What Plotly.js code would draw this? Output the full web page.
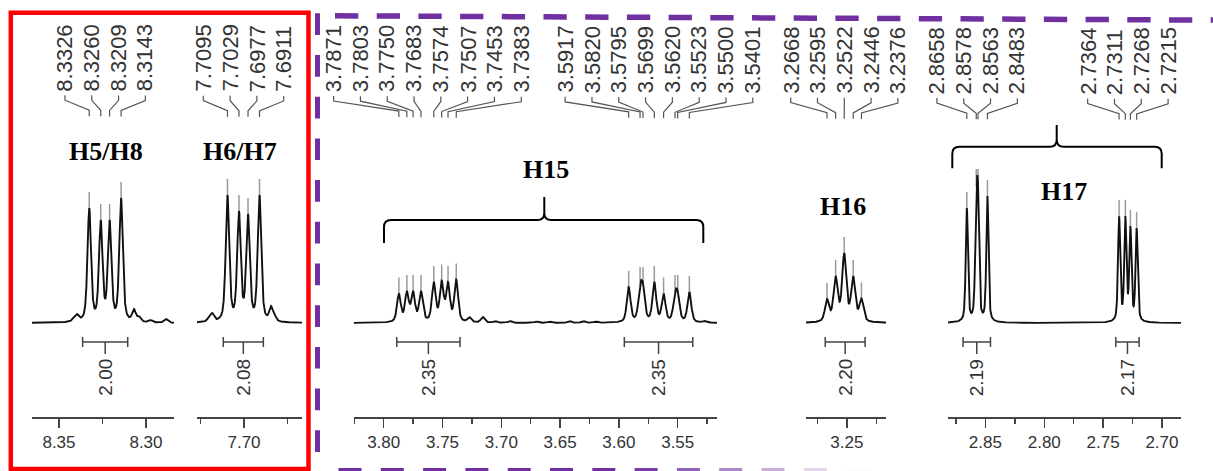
<!DOCTYPE html>
<html><head><meta charset="utf-8">
<script src="https://cdn.plot.ly/plotly-3.0.1.min.js"></script>
<style>html,body{margin:0;padding:0;background:#fff}#chart{width:1213px;height:471px}</style>
</head><body><div id="chart"></div>
<script>
const W = 1213, H = 471;

// ---------- data ----------
// picked peaks (ppm) and peak heights (arbitrary intensity units)
const shiftsH58 = [8.3326, 8.3260, 8.3209, 8.3143];
const heightsH58 = [115, 103, 103, 125];
const minorShiftsH58 = [8.3414, 8.3395, 8.3069, 8.3040, 8.2975, 8.2885];
const minorHeightsH58 = [6, 9, 14, 7, 3, 4];

const shiftsH67 = [7.7095, 7.7029, 7.6977, 7.6911];
const heightsH67 = [128, 112, 109, 128];
const minorShiftsH67 = [7.7205, 7.7183, 7.6845, 7.6825];
const minorHeightsH67 = [5, 10, 17, 9];

const shiftsH15a = [3.7871, 3.7803, 3.7750, 3.7683, 3.7574, 3.7507, 3.7453, 3.7383];
const heightsH15a = [29.5, 32, 32, 32, 41, 42.5, 41, 43.5];
const shiftsH15b = [3.5917, 3.5820, 3.5795, 3.5699, 3.5620, 3.5523, 3.5500, 3.5401];
const heightsH15b = [36, 40, 40, 41, 29.5, 32, 32, 31];
const minorShiftsH15 = [3.7272, 3.7158, 3.7054, 3.6929, 3.6699, 3.6586, 3.6422, 3.6303, 3.6197, 3.5270];
const minorHeightsH15 = [6, 6, 2, 2, 1.5, 1.5, 2, 2, 1.5, 2];

const shiftsH16 = [3.2668, 3.2595, 3.2522, 3.2446, 3.2376];
const heightsH16 = [24, 47, 70, 47, 24.5];

const shiftsH17a = [2.8658, 2.8578, 2.8563, 2.8483];
const heightsH17a = [115, 138, 138, 127];
const shiftsH17b = [2.7364, 2.7311, 2.7268, 2.7215];
const heightsH17b = [107, 107, 97, 95];

// integration regions (ppm) and integral values
const integralFrom = [8.3364, 7.7119, 3.7889, 3.5954, 3.2683, 2.8690, 2.7392];
const integralTo   = [8.3105, 7.6889, 3.7351, 3.5372, 3.2345, 2.8457, 2.7194];
const integralValues = ['2.00', '2.08', '2.35', '2.35', '2.20', '2.19', '2.17'];
const integralPanel = [0, 1, 2, 2, 3, 4, 4];

const assignmentLabels = ['H5/H8', 'H6/H7', 'H15', 'H16', 'H17'];

// ---------- layout of the panels ----------
const panels = [
  {px: [32, 174],    range: [8.3655, 8.2839], hw: 0.0012, eta: 0.5,
   sets: [[shiftsH58, heightsH58], [minorShiftsH58, minorHeightsH58]], groups: [shiftsH58], lab: [105.5, 152]},
  {px: [197, 302],   range: [7.7270, 7.6667], hw: 0.0012, eta: 0.5,
   sets: [[shiftsH67, heightsH67], [minorShiftsH67, minorHeightsH67]], groups: [shiftsH67], lab: [239.7, 152]},
  {px: [353.7, 717], range: [3.8255, 3.5166], hw: 0.0019, eta: 0.5,
   sets: [[shiftsH15a, heightsH15a], [shiftsH15b, heightsH15b], [minorShiftsH15, minorHeightsH15]], groups: [shiftsH15a, shiftsH15b], lab: [546.3, 170]},
  {px: [806, 886],   range: [3.2846, 3.2168], hw: 0.0021, eta: 0.5,
   sets: [[shiftsH16, heightsH16]], groups: [shiftsH16], lab: [842.7, 206]},
  {px: [948, 1181],  range: [2.8818, 2.6838], hw: 0.0011, eta: 0.5,
   sets: [[shiftsH17a, heightsH17a], [shiftsH17b, heightsH17b]], groups: [shiftsH17a, shiftsH17b], lab: [1063.7, 191]}
];
const AXIS_Y = 417;        // pixel row of the ppm axes
const BASE_Y = 323;        // pixel row of the spectrum baseline

const px2x = v => v / W, px2y = v => 1 - v / H;
function pxOf(i, ppm) {
  const p = panels[i];
  return p.px[0] + (p.range[0] - ppm) / (p.range[0] - p.range[1]) * (p.px[1] - p.px[0]);
}
function lineShape(d, w, eta) { const r = (d / w) * (d / w); return eta / (1 + r) + (1 - eta) * Math.exp(-Math.LN2 * r); }

// amplitudes so that the summed line shape reaches the read heights at the picked shifts
panels.forEach(p => {
  const pos = [], tgt = [];
  p.sets.forEach(([s, h]) => s.forEach((v, k) => { pos.push(v); tgt.push(h[k]); }));
  const amp = tgt.slice();
  for (let it = 0; it < 300; it++) {
    for (let a = 0; a < pos.length; a++) {
      let other = 0;
      for (let b = 0; b < pos.length; b++) if (b !== a) other += amp[b] * lineShape(pos[a] - pos[b], p.hw, p.eta);
      amp[a] = Math.max(0, tgt[a] - other);
    }
  }
  p.pos = pos; p.amp = amp;
});
function specAt(p, x) { let s = 0; for (let k = 0; k < p.pos.length; k++) s += p.amp[k] * lineShape(x - p.pos[k], p.hw, p.eta); return s; }

const traces = [], shapes = [], annotations = [];
const layout = {
  width: W, height: H, margin: {l: 0, r: 0, t: 0, b: 0}, showlegend: false,
  paper_bgcolor: '#fff', plot_bgcolor: 'rgba(0,0,0,0)',
  yaxis: {domain: [0, 1], range: [BASE_Y - H, BASE_Y], visible: false, fixedrange: true}
};

panels.forEach((p, i) => {
  const xa = 'x' + (i ? i + 1 : ''), key = 'xaxis' + (i ? i + 1 : '');
  layout[key] = {
    domain: [p.px[0] / W, p.px[1] / W], range: p.range, anchor: 'free', position: (H - AXIS_Y) / H,
    showgrid: false, zeroline: false, showline: true, linecolor: '#444', linewidth: 1.5,
    ticks: 'outside', ticklen: 9, tickwidth: 1.5, tickcolor: '#444', dtick: 0.05, tick0: 0, tickformat: '.2f',
    minor: {dtick: 0.025, tick0: 0, ticks: 'outside', ticklen: 5, tickwidth: 1.5, tickcolor: '#444', showgrid: false},
    tickfont: {family: 'Liberation Sans, Arial, sans-serif', size: 17, color: '#333'}, fixedrange: true
  };
  const N = 1500, xs = [], ys = [];
  for (let k = 0; k <= N; k++) { const x = p.range[0] + (p.range[1] - p.range[0]) * k / N; xs.push(x); ys.push(specAt(p, x)); }
  // peak-pick markers
  const mx = [], my = [];
  p.groups.forEach(g => g.forEach(v => { mx.push(v); my.push(specAt(p, v) + 7); }));
  traces.push({x: mx, y: my, xaxis: xa, yaxis: 'y', mode: 'markers', hoverinfo: 'skip',
    marker: {symbol: 'line-ns-open', size: 13, color: '#9a9a9a', line: {width: 1.5, color: '#9a9a9a'}}});
  traces.push({x: xs, y: ys, xaxis: xa, yaxis: 'y', mode: 'lines', hoverinfo: 'skip', line: {color: '#111', width: 1.9}});

  // peak labels with connectors
  p.groups.forEach(g => {
    const pk = g.map(v => pxOf(i, v));
    const mean = pk.reduce((a, b) => a + b, 0) / pk.length;
    g.forEach((v, k) => {
      const lx = mean + (k - (g.length - 1) / 2) * 26.8;
      const lb = 92 + 4 * (lx / W);
      annotations.push({x: px2x(lx), y: px2y(lb), xref: 'paper', yref: 'paper', text: v.toFixed(4), textangle: -90,
        xanchor: 'center', yanchor: 'bottom', showarrow: false, borderpad: 0,
        font: {family: 'Liberation Sans, Arial, sans-serif', size: 22, color: '#333'}});
      const yA = lb + 3, yB = yA + 5, yC = yB + 10, yD = yC + 6;
      shapes.push({type: 'path', xref: 'paper', yref: 'paper', line: {color: '#555', width: 1.2},
        path: `M ${px2x(lx)} ${px2y(yA)} L ${px2x(lx)} ${px2y(yB)} L ${px2x(pk[k])} ${px2y(yC)} L ${px2x(pk[k])} ${px2y(yD)}`});
    });
  });
  annotations.push({x: px2x(p.lab[0]), y: px2y(p.lab[1]), xref: 'paper', yref: 'paper', text: '<b>' + assignmentLabels[i] + '</b>',
    showarrow: false, xanchor: 'center', yanchor: 'middle', font: {family: 'Liberation Serif, Times New Roman, serif', size: 26, color: '#000'}});
});

// integrals
integralValues.forEach((val, j) => {
  const i = integralPanel[j];
  const x0 = pxOf(i, integralFrom[j]), x1 = pxOf(i, integralTo[j]), xc = (x0 + x1) / 2;
  const ln = {color: '#444', width: 1.5};
  shapes.push({type: 'path', xref: 'paper', yref: 'paper', line: ln,
    path: `M ${px2x(x0)} ${px2y(337)} L ${px2x(x0)} ${px2y(347)} M ${px2x(x0)} ${px2y(342)} L ${px2x(x1)} ${px2y(342)} M ${px2x(x1)} ${px2y(337)} L ${px2x(x1)} ${px2y(347)} M ${px2x(xc)} ${px2y(342)} L ${px2x(xc)} ${px2y(354)}`});
  annotations.push({x: px2x(xc), y: px2y(377.5), xref: 'paper', yref: 'paper', text: val, textangle: -90, showarrow: false,
    xanchor: 'center', yanchor: 'middle', font: {family: 'Liberation Sans, Arial, sans-serif', size: 19, color: '#333'}});
});

// curly braces over H15 and H17
function brace(xl, xr, xm, yEnd, yBar, yTip) {
  const r = 7, P = (x, y) => `${px2x(x)} ${px2y(y)}`;
  return `M ${P(xl, yEnd)} L ${P(xl, yBar + r)} Q ${P(xl, yBar)} ${P(xl + r, yBar)} L ${P(xm - r, yBar)} Q ${P(xm, yBar)} ${P(xm, yBar - r)} L ${P(xm, yTip)}` +
         ` M ${P(xm, yBar - r)} Q ${P(xm, yBar)} ${P(xm + r, yBar)} L ${P(xr - r, yBar)} Q ${P(xr, yBar)} ${P(xr, yBar + r)} L ${P(xr, yEnd)}`;
}
shapes.push({type: 'path', xref: 'paper', yref: 'paper', line: {color: '#000', width: 2}, path: brace(384, 703.3, 544.3, 243, 220, 197)});
shapes.push({type: 'path', xref: 'paper', yref: 'paper', line: {color: '#000', width: 2}, path: brace(952.3, 1161.7, 1056.7, 168.3, 146.7, 125)});

// red frame
shapes.push({type: 'rect', xref: 'paper', yref: 'paper', x0: px2x(10.8), x1: px2x(308.5), y0: px2y(12.8), y1: px2y(469),
  line: {color: '#ff0000', width: 4.5}, fillcolor: 'rgba(0,0,0,0)'});
// purple dashed frame
const PURPLE = '#7030A0';
shapes.push({type: 'line', xref: 'paper', yref: 'paper', x0: px2x(317.5), x1: px2x(317.5), y0: px2y(13.3), y1: px2y(471),
  line: {color: PURPLE, width: 5, dash: '21.7px,20px'}});
shapes.push({type: 'line', xref: 'paper', yref: 'paper', x0: px2x(335), x1: px2x(1213), y0: px2y(15.8), y1: px2y(20.1),
  line: {color: PURPLE, width: 5.5, dash: '23.3px,18.4px'}});
for (let x = 338.5; x < 850; x += 42.3) {
  const fade = x < 620 ? 0 : Math.min(1, (x - 620) / 230);
  const c = (a, b) => Math.round(a + (255 - a) * fade);
  shapes.push({type: 'line', xref: 'paper', yref: 'paper', x0: px2x(x), x1: px2x(x + 23), y0: px2y(470.5), y1: px2y(470.5),
    line: {color: `rgb(${c(0x70)},${c(0x30)},${c(0xA0)})`, width: 5}});
}

layout.shapes = shapes;
layout.annotations = annotations;
Plotly.newPlot('chart', traces, layout, {staticPlot: true, displayModeBar: false});
</script></body></html>
